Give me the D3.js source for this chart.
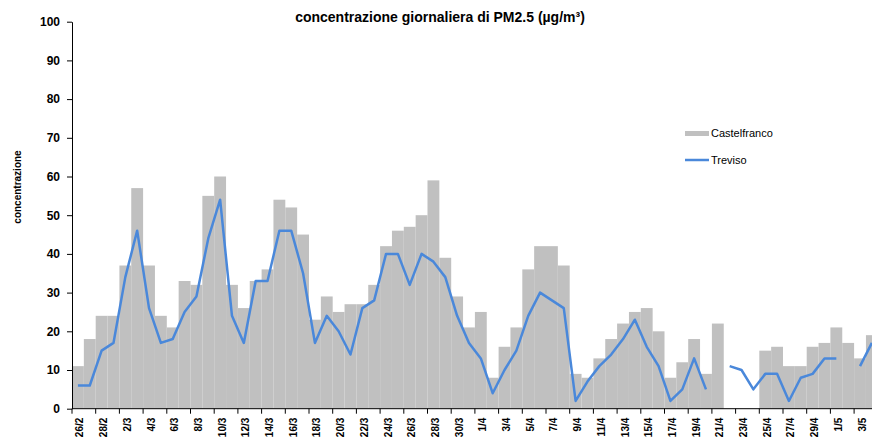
<!DOCTYPE html>
<html>
<head>
<meta charset="utf-8">
<script src="https://cdn.jsdelivr.net/npm/d3@7"></script>
<style>
  body { margin: 0; background: #fff; }
  svg { display: block; font-family: "Liberation Sans", Arial, sans-serif; }
</style>
</head>
<body>
<script>
// daily PM2.5, 26/2 -> 4/5
var days = ["26/2","27/2","28/2",
  "1/3","2/3","3/3","4/3","5/3","6/3","7/3","8/3","9/3","10/3","11/3","12/3","13/3","14/3","15/3","16/3",
  "17/3","18/3","19/3","20/3","21/3","22/3","23/3","24/3","25/3","26/3","27/3","28/3","29/3","30/3","31/3",
  "1/4","2/4","3/4","4/4","5/4","6/4","7/4","8/4","9/4","10/4","11/4","12/4","13/4","14/4","15/4","16/4",
  "17/4","18/4","19/4","20/4","21/4","22/4","23/4","24/4","25/4","26/4","27/4","28/4","29/4","30/4",
  "1/5","2/5","3/5","4/5"];

var castelfranco = [11,18,24,
  24,37,57,37,24,21,33,32,55,60,32,26,33,36,54,52,
  45,23,29,25,27,27,32,42,46,47,50,59,39,29,21,
  25,8,16,21,36,42,42,37,9,8,13,18,22,25,26,20,
  8,12,18,9,22,null,null,null,15,16,11,11,16,17,
  21,17,13,19];

var treviso = [6,6,15,
  17,34,46,26,17,18,25,29,44,54,24,17,33,33,46,46,
  35,17,24,20,14,26,28,40,40,32,40,38,34,24,17,
  13,4,10,15,24,30,28,26,2,7,11,14,18,23,16,11,
  2,5,13,5,null,11,10,5,9,9,2,8,9,13,
  13,null,11,17];

var yTicks = [0,10,20,30,40,50,60,70,80,90,100];

var W = 872, H = 443;
var plotLeft = 72, step = 11.85, plotBottom = 408.7, plotTop = 21.7;

var svg = d3.select("body").append("svg")
    .attr("width", W)
    .attr("height", H);

var x = d3.scaleBand()
    .domain(days)
    .range([plotLeft, plotLeft + step * days.length])
    .padding(0);

var y = d3.scaleLinear()
    .domain([0, 100])
    .range([plotBottom, plotTop]);

// bars - Castelfranco
svg.append("g").selectAll("rect")
    .data(days.map(function(d, i) { return {d: d, v: castelfranco[i]}; }).filter(function(o) { return o.v != null; }))
  .enter().append("rect")
    .attr("x", function(o) { return x(o.d); })
    .attr("y", function(o) { return y(o.v); })
    .attr("width", x.bandwidth())
    .attr("height", function(o) { return y(0) - y(o.v); })
    .attr("fill", "#c0c0c0");

// line - Treviso
var line = d3.line()
    .defined(function(o) { return o.v != null; })
    .x(function(o) { return x(o.d) + x.bandwidth() / 2; })
    .y(function(o) { return y(o.v); });

svg.append("path")
    .datum(days.map(function(d, i) { return {d: d, v: treviso[i]}; }))
    .attr("d", line)
    .attr("fill", "none")
    .attr("stroke", "#4a88da")
    .attr("stroke-width", 2.5)
    .attr("stroke-linejoin", "round");

// y axis
var yAxis = svg.append("g")
    .attr("transform", "translate(" + plotLeft + ",0)")
    .call(d3.axisLeft(y).tickValues(yTicks).tickSize(5).tickPadding(7).tickSizeOuter(0));
yAxis.select(".domain").attr("stroke", "#000");
yAxis.selectAll("text")
    .attr("font-size", "12px")
    .attr("font-weight", "bold")
    .attr("fill", "#000")
    .attr("font-family", "'Liberation Sans', Arial, sans-serif");

// x axis: ticks between categories every 2 days, labels on the first of each pair
var xg = svg.append("g");
xg.append("line")
    .attr("x1", plotLeft).attr("x2", x.range()[1])
    .attr("y1", plotBottom).attr("y2", plotBottom)
    .attr("stroke", "#000");

var every2 = days.filter(function(d, i) { return i % 2 === 0; });

xg.selectAll(".tk")
    .data(every2)
  .enter().append("line")
    .attr("x1", function(d) { return x(d); })
    .attr("x2", function(d) { return x(d); })
    .attr("y1", plotBottom)
    .attr("y2", plotBottom + 5)
    .attr("stroke", "#000");

xg.selectAll(".lbl")
    .data(every2)
  .enter().append("text")
    .attr("transform", function(d) {
      return "translate(" + (x(d) + x.bandwidth() / 2 + 2) + "," + (plotBottom + 9) + ") rotate(-90)";
    })
    .attr("dy", "0.35em")
    .attr("text-anchor", "end")
    .attr("font-size", "10px")
    .attr("font-weight", "bold")
    .text(function(d) { return d; });

// titles
svg.append("text")
    .attr("x", 440)
    .attr("y", 22)
    .attr("text-anchor", "middle")
    .attr("font-size", "14px")
    .attr("font-weight", "bold")
    .text("concentrazione giornaliera di PM2.5 (µg/m³)");

svg.append("text")
    .attr("transform", "translate(21,187) rotate(-90)")
    .attr("text-anchor", "middle")
    .attr("font-size", "10px")
    .attr("font-weight", "bold")
    .text("concentrazione");

// legend
var lg = svg.append("g");
lg.append("rect")
    .attr("x", 685).attr("y", 131)
    .attr("width", 24).attr("height", 5)
    .attr("fill", "#c0c0c0");
lg.append("text")
    .attr("x", 711).attr("y", 133.5)
    .attr("dy", "0.35em")
    .attr("font-size", "11px")
    .text("Castelfranco");
lg.append("line")
    .attr("x1", 685).attr("x2", 709)
    .attr("y1", 160).attr("y2", 160)
    .attr("stroke", "#4a88da")
    .attr("stroke-width", 2.5);
lg.append("text")
    .attr("x", 711).attr("y", 160)
    .attr("dy", "0.35em")
    .attr("font-size", "11px")
    .text("Treviso");
</script>
</body>
</html>
